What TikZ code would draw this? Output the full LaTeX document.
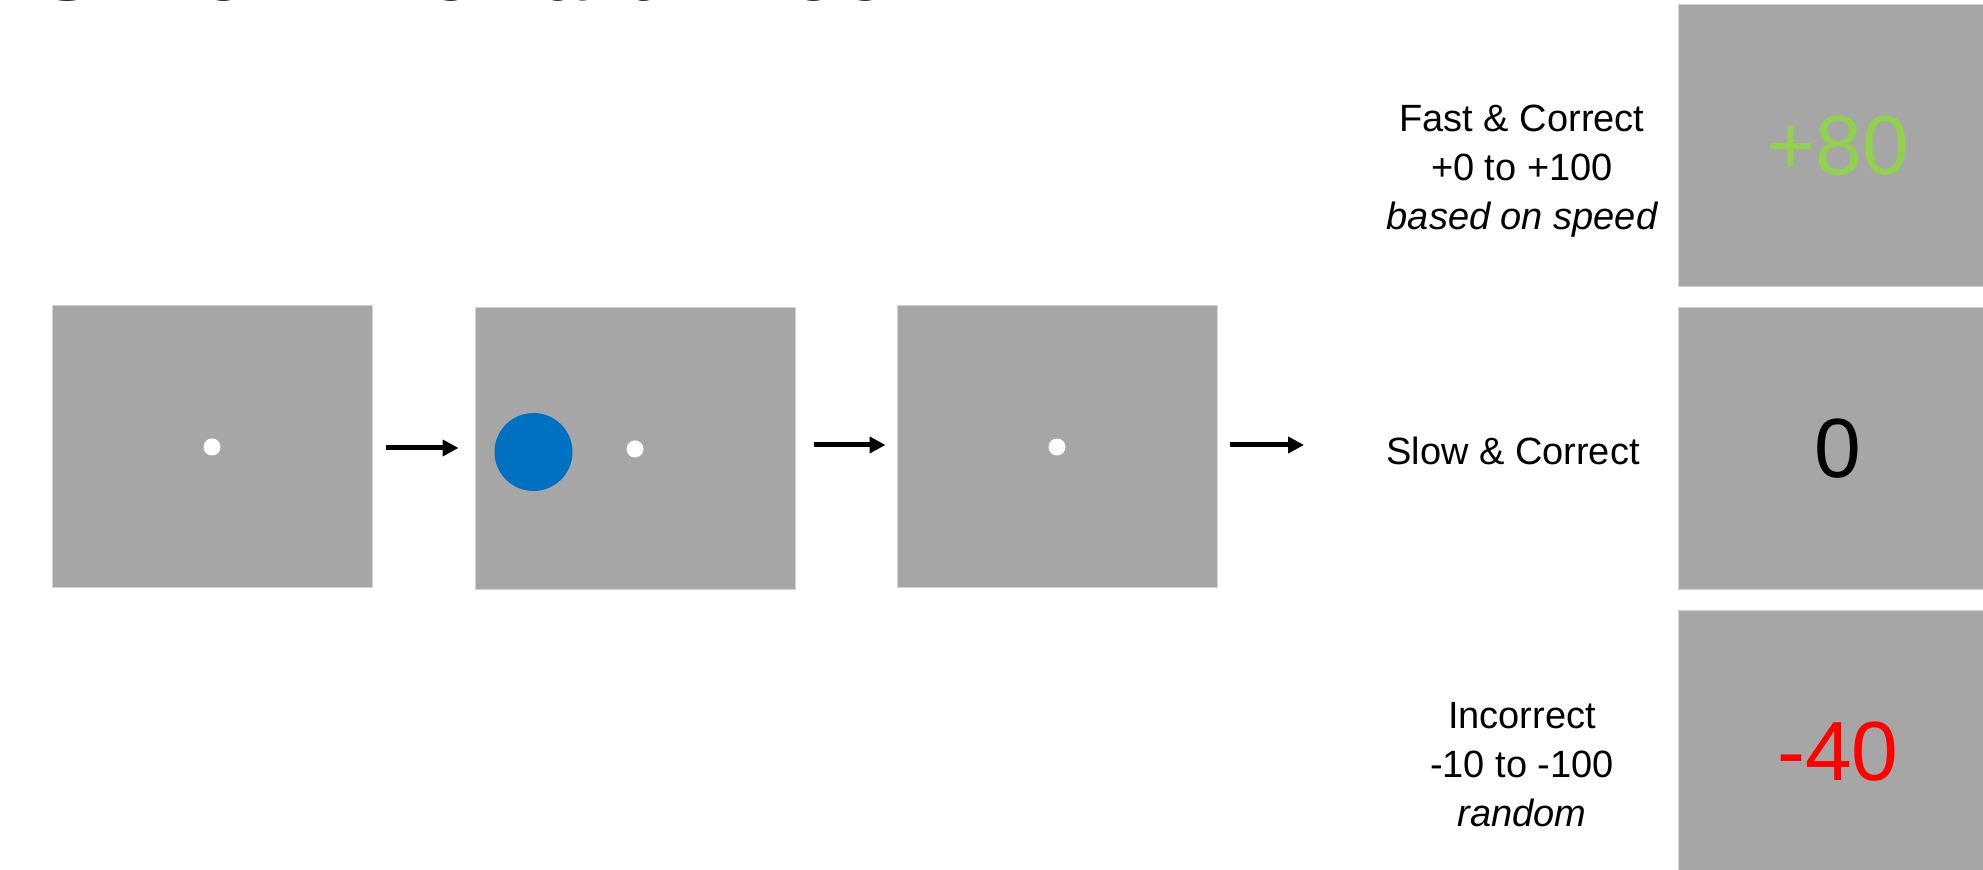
\documentclass[tikz,border=0pt]{standalone}
\usepackage{fontspec}
\setmainfont{Liberation Sans}
\usetikzlibrary{arrows.meta}
\definecolor{screen}{HTML}{A6A6A6}
\definecolor{screenedge}{HTML}{D2D2D2}
\definecolor{stimblue}{HTML}{0070C0}
\definecolor{gaingreen}{HTML}{92D050}
\definecolor{lossred}{HTML}{FF0000}
\begin{document}
\begin{tikzpicture}[x=0.5pt,y=-0.5pt,
  screenbox/.style={rectangle, fill=screen, draw=screenedge, line width=0.5pt,
    minimum width=160pt, minimum height=141pt, inner sep=0pt},
  fixdot/.style={circle, fill=white, minimum size=8.5pt, inner sep=0pt},
  stimdot/.style={circle, fill=stimblue, minimum size=39pt, inner sep=0pt},
  flow/.style={line width=2.5pt, -{Triangle[length=8pt,width=8pt]}},
  cond/.style={font=\fontsize{19}{24.5}\selectfont, align=center, anchor=base, inner sep=0pt},
  score/.style={font=\fontsize{42}{50}\selectfont, inner sep=0pt}
]
\useasboundingbox (0,0) rectangle (1983,870);
\begin{scope}
\clip (0,0) rectangle (1983,870);

% heading, running off the top edge
\node[font=\bfseries\fontsize{43.3}{50}\selectfont, anchor=base west, inner sep=0pt]
  (title) at (38,1) {Simon: Reward Block};

% trial sequence: fixation, stimulus, fixation
\node[screenbox] (b1) at (212,447) {};
\node[fixdot] (f1) at (b1.center) {};

\node[screenbox] (b2) at (635,449) {};
\node[fixdot] (f2) at (b2.center) {};
\node[stimdot] (stim) at (533.5,452) {};

\node[screenbox] (b3) at (1057,447) {};
\node[fixdot] (f3) at (b3.center) {};

\coordinate (row1) at (0,448);
\coordinate (next) at (1304,445);
\draw[flow, shorten <=6.5pt, shorten >=8pt] (b1.east |- row1) -- (b2.west |- row1);
\draw[flow, shorten <=9pt, shorten >=5.5pt] (b2.east |- next) -- (b3.west |- next);
\draw[flow, shorten <=6pt] (b3.east |- next) -- (next);

% feedback screens
\node[screenbox] (rA) at (1838,146) {};
\node[score, text=gaingreen] (sA) at (rA.center) {+80};
\node[screenbox] (rB) at (1838,449) {};
\node[score, text=black] (sB) at (rB.center) {0};
\node[screenbox] (rC) at (1838,752) {};
\node[score, text=lossred] (sC) at (rC.center) {-40};

% outcome conditions (base anchor sits on the last line)
\node[cond] (cA) at (1522,230) {Fast \& Correct\\+0 to +100\\\itshape based on speed};
\node[cond] (cB) at (1513,465) {Slow \& Correct};
\node[cond] (cC) at (1522,827) {Incorrect\\-10 to -100\\\itshape random};
\end{scope}
\end{tikzpicture}
\end{document}
